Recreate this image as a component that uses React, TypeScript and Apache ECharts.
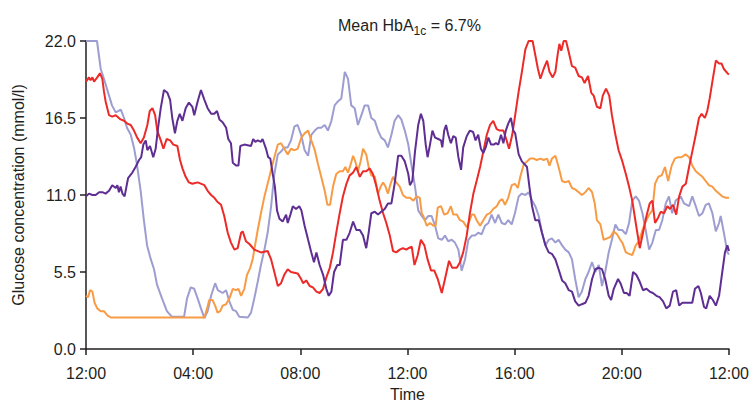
import React, { useEffect, useRef } from "react";
import * as echarts from "echarts";

const xTickLabels = ["12:00", "04:00", "08:00", "12:00", "16:00", "20:00", "12:00"];
const titleMain = "Mean HbA";
const titleSub = "1c";
const titleTail = " = 6.7%";
const yAxisTitle = "Glucose concentration (mmol/l)";
const xAxisTitle = "Time";

// [hours since start, glucose mmol/l]
const lavenderSeries: [number, number][] = [
  [0,22.0],[0.41,22.0],[0.55,20.0],[0.67,19.3],[0.86,18.1],[0.97,17.4],[1.11,16.9],[1.30,17.1],[1.42,16.5],[1.53,15.8],[1.67,15.3],[1.79,14.4],[1.90,13.2],[2.04,11.3],[2.16,9.2],[2.28,7.4],[2.42,6.4],[2.54,5.7],[2.65,4.6],[2.84,3.6],[3.02,2.7],[3.21,2.3],[3.66,2.3],[3.77,3.6],[3.91,4.4],[4.04,4.3],[4.17,3.6],[4.29,2.9],[4.42,2.2],[4.54,2.7],[4.67,3.8],[4.82,4.7],[4.92,4.2],[5.10,4.0],[5.23,4.2],[5.35,3.4],[5.48,2.8],[5.60,2.7],[5.72,2.3],[6.04,2.25],[6.16,2.6],[6.28,3.6],[6.41,4.8],[6.53,6.0],[6.66,7.1],[6.78,8.3],[6.91,10.2],[7.03,12.5],[7.16,13.9],[7.28,14.1],[7.40,14.4],[7.53,14.4],[7.65,14.9],[7.78,15.9],[7.90,16.0],[8.03,15.3],[8.16,14.2],[8.29,13.8],[8.41,15.3],[8.54,15.6],[8.66,15.8],[8.78,15.8],[8.91,16.0],[9.03,15.6],[9.16,16.3],[9.28,17.4],[9.41,17.7],[9.53,17.9],[9.66,19.8],[9.78,19.3],[9.90,17.4],[10.03,17.2],[10.15,16.0],[10.28,16.7],[10.40,17.4],[10.53,17.4],[10.65,16.5],[10.78,16.3],[10.90,15.6],[11.02,15.1],[11.15,14.9],[11.27,14.4],[11.40,15.3],[11.52,16.3],[11.65,16.7],[11.77,16.4],[11.90,15.6],[12.03,14.6],[12.16,13.0],[12.28,11.6],[12.40,9.9],[12.53,9.5],[12.65,9.2],[12.78,9.5],[12.90,9.5],[13.03,8.8],[13.15,7.9],[13.28,7.8],[13.40,8.1],[13.52,7.7],[13.65,7.8],[13.77,7.6],[13.90,7.1],[14.02,5.6],[14.15,6.4],[14.27,7.8],[14.40,8.1],[14.52,8.1],[14.64,8.3],[14.77,8.2],[14.89,8.8],[15.02,9.0],[15.14,9.6],[15.27,9.0],[15.39,9.6],[15.52,9.0],[15.64,8.9],[15.76,9.2],[15.89,8.9],[16.01,9.7],[16.15,10.9],[16.27,11.1],[16.40,11.0],[16.52,11.2],[16.65,10.6],[16.77,10.2],[16.90,9.5],[17.02,8.3],[17.15,7.4],[17.27,7.8],[17.39,7.9],[17.52,7.6],[17.64,7.8],[17.77,7.4],[17.89,7.1],[18.02,6.9],[18.14,6.4],[18.26,5.0],[18.39,3.7],[18.51,4.1],[18.64,5.0],[18.76,5.5],[18.89,6.2],[19.01,5.5],[19.14,6.0],[19.26,4.5],[19.38,5.5],[19.51,6.9],[19.63,7.8],[19.76,8.9],[19.88,8.5],[20.01,8.5],[20.15,8.2],[20.27,9.0],[20.39,10.6],[20.52,10.9],[20.64,10.6],[20.77,9.7],[20.89,8.5],[21.02,7.1],[21.14,7.6],[21.27,8.5],[21.39,8.5],[21.51,9.2],[21.64,10.4],[21.76,10.9],[21.88,9.7],[22.01,10.6],[22.20,10.9],[22.32,10.4],[22.51,10.2],[22.63,10.9],[22.76,10.2],[22.88,9.5],[23.01,9.7],[23.13,10.3],[23.25,10.4],[23.38,9.7],[23.51,8.4],[23.63,9.0],[23.69,9.5],[23.81,8.3],[23.94,6.9],[24.0,6.75]
];

const orangeSeries: [number, number][] = [
  [0,3.8],[0.08,3.7],[0.15,4.2],[0.24,4.1],[0.32,3.3],[0.42,2.9],[0.55,2.7],[0.67,2.7],[0.80,2.4],[0.92,2.25],[4.42,2.25],[4.52,2.9],[4.60,3.5],[4.72,3.5],[4.82,3.1],[4.91,2.6],[5.01,2.7],[5.10,3.1],[5.23,3.2],[5.35,3.6],[5.48,4.3],[5.60,4.2],[5.69,4.3],[5.79,3.8],[5.91,4.3],[6.01,5.3],[6.13,5.8],[6.22,6.4],[6.31,7.4],[6.41,8.5],[6.53,9.7],[6.66,10.9],[6.78,11.8],[6.91,12.8],[7.03,13.7],[7.16,14.6],[7.28,14.7],[7.40,14.3],[7.53,13.9],[7.65,14.3],[7.78,14.2],[7.90,14.3],[8.04,15.1],[8.16,15.4],[8.29,15.6],[8.41,14.9],[8.54,14.2],[8.66,13.2],[8.78,12.3],[8.91,11.3],[9.01,10.3],[9.11,10.3],[9.22,11.6],[9.34,12.5],[9.47,12.7],[9.59,12.7],[9.68,13.0],[9.78,12.6],[9.88,13.2],[9.97,13.8],[10.05,13.4],[10.15,12.7],[10.25,13.4],[10.34,14.3],[10.46,13.9],[10.55,13.0],[10.65,12.4],[10.78,12.3],[10.90,11.1],[11.00,11.6],[11.09,11.9],[11.18,11.6],[11.27,11.1],[11.37,11.8],[11.46,12.3],[11.58,11.9],[11.71,11.6],[11.83,11.0],[11.96,10.8],[12.09,10.8],[12.22,10.6],[12.34,10.9],[12.46,10.8],[12.53,9.7],[12.59,9.5],[12.72,8.8],[12.84,9.0],[12.97,8.8],[13.05,8.8],[13.13,10.1],[13.25,10.2],[13.37,9.6],[13.50,9.7],[13.62,10.2],[13.71,9.6],[13.84,9.6],[13.96,9.2],[14.08,9.1],[14.21,8.7],[14.30,9.1],[14.40,9.6],[14.49,9.6],[14.58,9.2],[14.71,8.8],[14.83,9.2],[14.96,9.6],[15.08,9.7],[15.20,10.0],[15.33,10.2],[15.45,10.6],[15.54,10.7],[15.64,10.3],[15.76,10.8],[15.89,11.7],[16.01,11.8],[16.12,11.5],[16.21,12.3],[16.34,13.2],[16.46,13.4],[16.58,13.6],[16.71,13.6],[16.83,13.5],[16.96,13.6],[17.08,13.5],[17.21,13.6],[17.30,13.1],[17.39,13.6],[17.52,13.8],[17.64,13.0],[17.77,12.0],[17.89,11.9],[18.02,12.0],[18.14,11.5],[18.26,11.4],[18.39,11.2],[18.51,11.0],[18.64,11.2],[18.76,11.5],[18.89,11.2],[18.99,10.4],[19.07,9.2],[19.20,8.9],[19.32,7.8],[19.45,7.9],[19.57,8.0],[19.70,8.4],[19.82,8.2],[19.94,7.8],[20.02,7.6],[20.15,6.9],[20.27,6.8],[20.39,6.7],[20.52,7.4],[20.64,7.7],[20.77,8.5],[20.89,9.1],[21.02,9.6],[21.14,9.9],[21.24,11.8],[21.36,12.3],[21.49,12.4],[21.61,13.0],[21.73,12.0],[21.86,13.1],[21.98,13.6],[22.10,13.7],[22.23,13.7],[22.38,13.9],[22.51,13.7],[22.63,13.1],[22.76,12.7],[22.88,12.5],[23.01,12.3],[23.13,12.0],[23.25,11.7],[23.38,11.6],[23.51,11.3],[23.63,11.1],[23.75,10.9],[23.88,10.8],[24.0,10.8]
];

const redSeries: [number, number][] = [
  [0,19.1],[0.11,19.4],[0.17,19.2],[0.24,19.4],[0.30,19.1],[0.42,19.4],[0.52,19.7],[0.61,19.3],[0.67,18.4],[0.73,17.7],[0.86,16.7],[0.98,16.6],[1.11,16.7],[1.29,16.4],[1.42,16.3],[1.54,16.1],[1.67,16.0],[1.79,15.6],[1.91,15.1],[2.04,14.7],[2.16,15.1],[2.29,16.0],[2.38,17.0],[2.48,17.2],[2.58,16.7],[2.66,15.6],[2.79,14.9],[2.89,14.3],[3.01,15.0],[3.14,14.9],[3.26,14.6],[3.41,14.5],[3.51,13.5],[3.60,12.9],[3.72,12.3],[3.84,11.9],[3.97,11.8],[4.17,11.9],[4.42,11.7],[4.54,11.3],[4.67,11.0],[4.79,10.8],[4.91,10.5],[5.04,10.3],[5.16,9.5],[5.29,8.3],[5.41,7.6],[5.54,7.1],[5.66,7.2],[5.79,8.3],[5.85,8.4],[5.97,7.7],[6.10,7.5],[6.28,7.1],[6.53,6.9],[6.78,7.0],[6.91,6.4],[7.03,5.5],[7.16,4.5],[7.28,4.7],[7.40,5.3],[7.53,5.7],[7.65,5.5],[7.90,5.4],[8.03,5.0],[8.10,4.7],[8.22,4.9],[8.35,4.5],[8.47,4.4],[8.60,4.1],[8.72,4.0],[8.85,4.3],[8.97,5.1],[9.10,5.8],[9.22,6.9],[9.34,8.3],[9.47,9.7],[9.59,10.9],[9.72,11.8],[9.84,12.4],[9.97,12.6],[10.09,13.0],[10.22,12.3],[10.34,12.7],[10.46,12.7],[10.59,12.9],[10.71,12.5],[10.84,11.6],[10.96,10.6],[11.09,9.7],[11.21,9.0],[11.34,8.1],[11.46,7.0],[11.58,6.9],[11.71,7.1],[11.83,7.2],[11.96,7.1],[12.03,7.2],[12.16,7.3],[12.26,6.0],[12.38,6.7],[12.50,7.8],[12.63,7.4],[12.75,6.4],[12.88,5.6],[13.00,5.6],[13.13,5.0],[13.28,4.0],[13.40,5.0],[13.55,6.3],[13.67,5.8],[13.84,5.8],[13.96,6.2],[14.08,6.9],[14.21,8.1],[14.33,9.7],[14.46,11.1],[14.58,12.0],[14.71,13.0],[14.83,14.1],[14.96,15.3],[15.08,16.0],[15.20,16.3],[15.33,15.7],[15.45,15.6],[15.58,15.6],[15.70,14.9],[15.79,14.3],[15.91,15.3],[16.02,16.7],[16.15,18.4],[16.27,19.8],[16.40,21.4],[16.52,22.0],[16.67,22.0],[16.77,21.0],[16.87,20.0],[16.96,19.3],[17.08,20.0],[17.21,20.6],[17.30,19.8],[17.42,19.4],[17.52,19.8],[17.61,21.1],[17.67,21.8],[17.74,21.3],[17.83,22.0],[17.92,22.0],[18.02,21.2],[18.14,20.2],[18.26,20.1],[18.39,19.5],[18.51,19.4],[18.61,19.0],[18.74,19.5],[18.86,18.3],[18.95,18.1],[19.07,17.3],[19.20,17.2],[19.29,18.1],[19.41,18.6],[19.53,18.1],[19.63,16.7],[19.76,15.3],[19.88,14.2],[20.02,13.4],[20.15,12.5],[20.27,11.6],[20.39,10.6],[20.52,9.0],[20.67,7.2],[20.79,8.3],[20.92,9.5],[21.04,10.4],[21.14,10.6],[21.24,9.0],[21.36,9.4],[21.45,9.8],[21.58,9.7],[21.70,10.2],[21.80,10.0],[21.91,10.3],[22.03,9.6],[22.14,10.9],[22.26,11.6],[22.39,11.8],[22.51,13.0],[22.63,14.1],[22.76,15.3],[22.88,16.5],[22.98,16.8],[23.10,16.5],[23.19,17.0],[23.28,17.9],[23.38,19.1],[23.51,20.6],[23.63,20.4],[23.72,20.4],[23.81,20.0],[23.94,19.7],[24.0,19.6]
];

const purpleSeries: [number, number][] = [
  [0,10.9],[0.11,11.1],[0.24,11.0],[0.36,11.0],[0.49,11.2],[0.61,11.2],[0.73,11.1],[0.86,11.3],[0.98,11.7],[1.11,11.5],[1.17,11.7],[1.23,11.2],[1.29,11.6],[1.36,11.1],[1.44,10.9],[1.57,12.2],[1.73,12.6],[1.85,13.0],[1.98,13.5],[2.06,13.7],[2.14,14.6],[2.23,14.9],[2.29,14.2],[2.39,14.5],[2.51,13.7],[2.60,14.3],[2.69,15.8],[2.79,17.2],[2.91,18.5],[3.04,18.3],[3.14,17.8],[3.22,16.5],[3.32,15.4],[3.41,16.3],[3.50,16.8],[3.60,16.3],[3.72,17.2],[3.84,17.6],[3.97,17.3],[4.04,16.7],[4.17,17.7],[4.29,18.5],[4.42,17.8],[4.54,17.2],[4.67,16.8],[4.79,16.8],[4.89,17.0],[4.98,16.4],[5.10,16.2],[5.23,15.8],[5.31,15.0],[5.41,14.7],[5.48,13.3],[5.60,13.1],[5.69,13.1],[5.76,14.5],[5.91,14.6],[6.16,14.5],[6.24,15.0],[6.32,14.8],[6.41,14.9],[6.53,14.8],[6.59,15.0],[6.72,14.3],[6.80,13.7],[6.88,13.6],[6.97,12.5],[7.05,11.6],[7.13,9.9],[7.22,9.3],[7.34,9.1],[7.47,9.6],[7.53,9.0],[7.63,9.6],[7.72,10.2],[7.84,10.0],[7.96,10.2],[8.04,9.9],[8.16,8.8],[8.29,7.8],[8.41,6.9],[8.51,6.2],[8.60,6.9],[8.72,6.0],[8.85,5.3],[8.97,4.3],[9.06,3.8],[9.16,4.1],[9.26,5.5],[9.38,6.0],[9.47,6.0],[9.59,7.8],[9.72,7.8],[9.84,8.3],[9.97,9.1],[10.09,8.5],[10.22,8.5],[10.34,8.1],[10.46,7.2],[10.55,8.3],[10.65,9.7],[10.78,9.8],[10.90,9.6],[11.02,9.8],[11.15,10.0],[11.27,10.4],[11.40,10.4],[11.52,11.8],[11.65,13.8],[11.77,13.8],[11.90,13.4],[12.03,12.5],[12.09,11.7],[12.18,12.0],[12.28,14.1],[12.40,16.0],[12.50,16.8],[12.59,16.3],[12.68,14.6],[12.75,13.7],[12.84,14.6],[12.93,15.6],[13.03,15.1],[13.15,15.0],[13.25,14.9],[13.30,14.4],[13.37,15.6],[13.44,16.0],[13.52,15.3],[13.62,14.7],[13.71,15.2],[13.80,15.1],[13.90,13.7],[14.00,12.8],[14.08,14.4],[14.21,15.2],[14.33,15.6],[14.45,15.5],[14.54,14.9],[14.64,15.3],[14.74,14.3],[14.83,14.0],[14.92,14.4],[15.02,15.1],[15.12,14.6],[15.22,14.6],[15.30,14.7],[15.39,14.6],[15.49,15.3],[15.58,14.7],[15.67,15.6],[15.76,16.1],[15.86,16.5],[15.95,15.6],[16.02,15.4],[16.15,13.9],[16.27,13.4],[16.37,13.2],[16.46,13.0],[16.55,11.6],[16.65,10.2],[16.77,9.2],[16.90,9.2],[17.02,8.3],[17.15,7.4],[17.27,6.9],[17.39,6.8],[17.52,6.4],[17.64,5.7],[17.77,4.9],[17.89,4.7],[18.02,4.2],[18.14,4.1],[18.26,3.4],[18.39,3.1],[18.51,3.2],[18.64,3.3],[18.76,3.8],[18.89,5.0],[19.01,5.7],[19.14,5.8],[19.26,5.7],[19.38,5.0],[19.51,3.8],[19.60,3.5],[19.70,4.3],[19.86,5.0],[19.95,4.7],[20.08,4.0],[20.18,4.0],[20.29,3.8],[20.42,5.5],[20.54,5.3],[20.67,4.8],[20.79,4.2],[20.92,4.3],[21.04,4.1],[21.16,4.0],[21.29,3.8],[21.41,3.7],[21.54,3.4],[21.66,2.9],[21.79,3.1],[21.91,4.1],[22.03,4.2],[22.14,3.1],[22.26,3.3],[22.45,3.3],[22.63,3.3],[22.73,4.3],[22.86,4.5],[22.95,4.0],[23.07,3.0],[23.15,2.9],[23.28,3.8],[23.40,3.5],[23.51,3.1],[23.63,3.8],[23.75,5.5],[23.85,6.9],[23.94,7.4],[24.0,7.0]
];

const FONT = "'Liberation Sans', Arial, Helvetica, sans-serif";
const INK = "#231f20";

export default function App() {
  const ref = useRef<HTMLDivElement>(null);
  useEffect(() => {
    document.body.style.margin = "0";
    if (!ref.current) return;
    const chart = echarts.init(ref.current, undefined, { renderer: "svg" });
    const mkLine = (name: string, data: [number, number][], color: string) => ({
      name,
      type: "line",
      data,
      showSymbol: false,
      symbol: "none",
      lineStyle: { color, width: 2 },
      itemStyle: { color },
      z: 2,
    });
    chart.setOption({
      animation: false,
      textStyle: { fontFamily: FONT, color: INK },
      title: {
        text: `{a|${titleMain}}{s|${titleSub}}{a|${titleTail}}`,
        left: 333,
        top: 8,
        textStyle: {
          fontWeight: "normal",
          rich: {
            a: { fontSize: 16, fontWeight: "normal", fontFamily: FONT, color: INK, verticalAlign: "bottom", lineHeight: 20 },
            s: { fontSize: 12, fontWeight: "normal", fontFamily: FONT, color: INK, verticalAlign: "bottom", lineHeight: 20, padding: [0, 0, -4, 0] },
          },
        },
      },
      grid: { left: 86, right: 23, top: 41, bottom: 53, containLabel: false },
      xAxis: {
        type: "value",
        min: 0,
        max: 24,
        interval: 4,
        name: xAxisTitle,
        nameLocation: "middle",
        nameGap: 37,
        nameTextStyle: { fontSize: 16, color: INK, fontFamily: FONT },
        axisLine: { lineStyle: { color: INK, width: 1.5 } },
        axisTick: { length: 6, lineStyle: { color: INK, width: 1.5 } },
        axisLabel: {
          fontSize: 16,
          color: INK,
          margin: 16,
          fontFamily: FONT,
          formatter: (v: number) => xTickLabels[Math.round(v / 4)] ?? "",
        },
        splitLine: { show: false },
      },
      yAxis: {
        type: "value",
        min: 0,
        max: 22,
        interval: 5.5,
        name: yAxisTitle,
        nameLocation: "middle",
        nameGap: 60,
        nameTextStyle: { fontSize: 16, color: INK, fontFamily: FONT },
        axisLine: { show: true, lineStyle: { color: INK, width: 1.5 } },
        axisTick: { show: true, length: 6, lineStyle: { color: INK, width: 1.5 } },
        axisLabel: {
          fontSize: 16,
          color: INK,
          margin: 10,
          fontFamily: FONT,
          formatter: (v: number) => v.toFixed(1),
        },
        splitLine: { show: false },
      },
      series: [
        mkLine("Lavender", lavenderSeries, "#9d9dd1"),
        mkLine("Orange", orangeSeries, "#f89b45"),
        mkLine("Red", redSeries, "#ec2a27"),
        mkLine("Purple", purpleSeries, "#5e2e92"),
      ],
    });
    return () => chart.dispose();
  }, []);
  return <div ref={ref} style={{ width: 752, height: 407 }} />;
}
